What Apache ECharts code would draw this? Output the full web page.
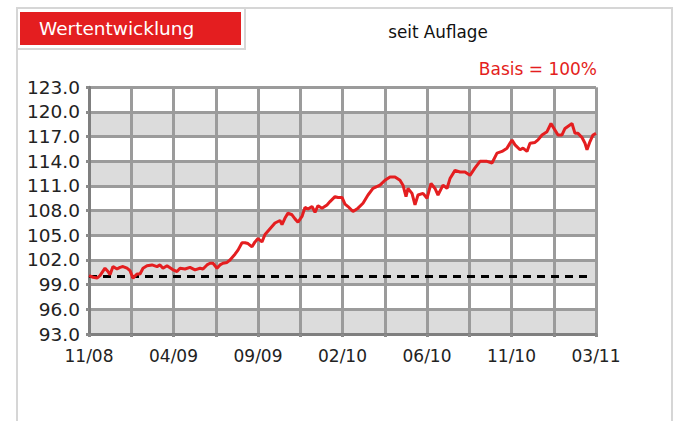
<!DOCTYPE html>
<html><head><meta charset="utf-8">
<script src="https://cdn.jsdelivr.net/npm/echarts@6/dist/echarts.min.js"></script>
<style>html,body{margin:0;padding:0;background:#fff}#c{width:676px;height:421px}</style>
</head><body><div id="c"></div>
<script>
// x positions are observation indices along the time axis (0 .. 507), values in % (Basis = 100)
const obsIdx = [0,4,8,11,16,19,21,24,28,31,34,38,41,44,48,51,54,58,63,68,71,74,78,84,88,91,96,101,106,111,114,118,121,124,128,131,134,138,141,146,149,153,156,159,163,166,169,173,176,181,186,191,193,196,199,203,206,209,213,216,219,223,226,229,233,238,241,246,249,253,256,259,264,269,274,279,284,291,296,301,306,311,314,317,319,323,326,329,334,338,342,346,349,354,358,361,366,371,376,381,386,391,398,403,408,413,418,423,426,431,434,438,441,446,449,453,458,462,465,469,473,476,483,486,489,493,496,498,501,504,507];
const fundValues = [100.1,99.9,99.8,100.1,101.0,100.6,100.2,101.2,100.9,101.1,101.2,101.0,100.7,99.8,100.3,100.3,101.0,101.3,101.4,101.2,101.4,101.0,101.3,100.8,100.6,101.0,100.9,101.1,100.8,101.0,100.9,101.4,101.6,101.6,101.0,101.4,101.6,101.7,102.0,102.7,103.2,104.1,104.1,104.0,103.6,104.2,104.6,104.2,105.1,105.8,106.5,106.8,106.3,107.1,107.7,107.5,107.0,106.6,107.3,108.4,108.2,108.5,107.8,108.6,108.3,108.7,109.1,109.7,109.6,109.6,108.8,108.5,107.9,108.3,108.9,109.9,110.7,111.1,111.7,112.1,112.1,111.7,111.1,109.7,110.7,110.1,108.7,109.9,110.1,109.5,111.3,110.7,109.9,111.1,110.7,111.9,112.9,112.7,112.7,112.3,113.2,114.0,114.0,113.8,115.0,115.2,115.6,116.6,116.0,115.4,115.6,115.2,116.2,116.3,116.6,117.2,117.6,118.6,118.0,117.2,117.2,118.0,118.6,117.4,117.4,116.9,116.2,115.4,116.4,117.2,117.4];
const baseIdx = [0, 499];
const baseValues = [100, 100];
const xTickLabels = ['11/08','04/09','09/09','02/10','06/10','11/10','03/11'];
const yMin = 93, yMax = 123, yStep = 3;
const xMax = 507, xStep = 42.25;

const FONT = '"DejaVu Sans", Verdana, sans-serif';
const chart = echarts.init(document.getElementById('c'), null, {renderer: 'svg'});
chart.setOption({
  animation: false,
  backgroundColor: '#fff',
  graphic: [
    {type: 'rect', shape: {x: 17, y: 8, width: 655, height: 430}, style: {fill: 'none', stroke: '#d6d6d6', lineWidth: 2}, z: 0},
    {type: 'rect', shape: {x: 17, y: 8, width: 228, height: 41}, style: {fill: '#fff', stroke: '#d6d6d6', lineWidth: 2}, z: 1},
    {type: 'rect', shape: {x: 20, y: 12, width: 221, height: 33}, style: {fill: '#e41e20'}, z: 2},
    {type: 'text', x: 39, y: 28.5, style: {text: 'Wertentwicklung', fill: '#fff', font: '18.5px ' + FONT, textVerticalAlign: 'middle'}, z: 3},
    {type: 'text', x: 438, y: 32, style: {text: 'seit Auflage', fill: '#111', font: '16.8px ' + FONT, textAlign: 'center', textVerticalAlign: 'middle'}, z: 3},
    {type: 'text', x: 597, y: 69, style: {text: 'Basis = 100%', fill: '#e41e20', font: '17px ' + FONT, textAlign: 'right', textVerticalAlign: 'middle'}, z: 3}
  ],
  grid: {left: 89, right: 80, top: 87.3, bottom: 87, containLabel: false},
  xAxis: {
    type: 'value', min: 0, max: xMax, interval: xStep,
    axisLine: {show: true, onZero: false, lineStyle: {color: '#7f7f7f', width: 3}},
    axisTick: {show: true, length: 3, lineStyle: {color: '#8a8a8a', width: 3}},
    splitLine: {show: true, lineStyle: {color: '#9b9b9b', width: 3}},
    axisLabel: {
      show: true, margin: 13, color: '#222', fontSize: 17, fontFamily: FONT,
      showMinLabel: true, showMaxLabel: true,
      formatter: function (v) {
        const i = Math.round(v / xStep);
        return i % 2 === 0 ? (xTickLabels[i / 2] || '') : '';
      }
    }
  },
  yAxis: {
    type: 'value', min: yMin, max: yMax, interval: yStep,
    axisLine: {show: true, lineStyle: {color: '#7f7f7f', width: 3}},
    axisTick: {show: true, length: 3, lineStyle: {color: '#8a8a8a', width: 3}},
    splitLine: {show: true, lineStyle: {color: '#9b9b9b', width: 3}},
    splitArea: {show: true, areaStyle: {color: ['#dcdcdc', '#ffffff']}},
    axisLabel: {margin: 9, color: '#222', fontSize: 18.5, fontFamily: FONT, formatter: v => v.toFixed(1)}
  },
  series: [
    {type: 'line', data: baseIdx.map((x, i) => [x, baseValues[i]]), symbol: 'none', silent: true,
     lineStyle: {color: '#000', width: 3, type: [8, 6]}, z: 3},
    {type: 'line', data: obsIdx.map((x, i) => [x, fundValues[i]]), symbol: 'none',
     lineStyle: {color: '#e41e20', width: 3}, z: 4}
  ]
});
</script></body></html>
